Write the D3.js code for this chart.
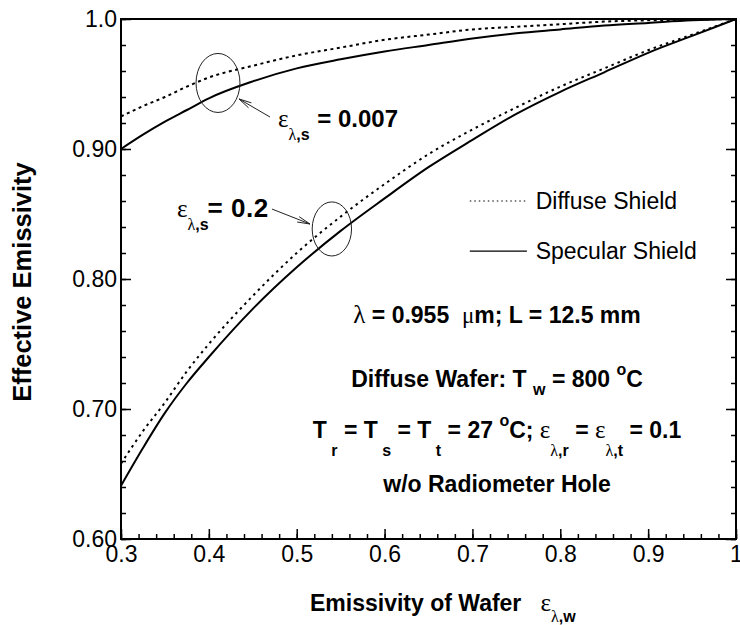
<!DOCTYPE html>
<html>
<head>
<meta charset="utf-8">
<script src="https://cdn.jsdelivr.net/npm/d3@7"></script>
<style>
  html, body { margin: 0; padding: 0; background: #fff; }
  svg text { white-space: pre; }
</style>
</head>
<body>
<svg id="chart" width="740" height="625"></svg>
<script>
// ---------------- data ----------------
const wafer = [0.3, 0.325, 0.35, 0.375, 0.4, 0.45, 0.5, 0.55, 0.6, 0.65, 0.7, 0.75, 0.8, 0.85, 0.9, 0.95, 1.0];
// shield emissivity 0.007
const spec007 = [0.900, 0.911, 0.921, 0.930, 0.939, 0.952, 0.962, 0.969, 0.975, 0.980, 0.985, 0.989, 0.992, 0.995, 0.997, 0.999, 1.0];
const diff007 = [0.925, 0.933, 0.940, 0.948, 0.955, 0.964, 0.972, 0.978, 0.984, 0.988, 0.992, 0.994, 0.996, 0.998, 0.999, 0.9995, 1.0];
// shield emissivity 0.2
const spec02  = [0.641, 0.670, 0.697, 0.720, 0.740, 0.777, 0.809, 0.837, 0.862, 0.886, 0.907, 0.927, 0.944, 0.959, 0.974, 0.987, 1.0];
const diff02  = [0.658, 0.683, 0.705, 0.729, 0.750, 0.787, 0.820, 0.848, 0.873, 0.896, 0.915, 0.932, 0.948, 0.962, 0.976, 0.988, 1.0];

const xTicks = [0.3, 0.4, 0.5, 0.6, 0.7, 0.8, 0.9, 1.0];
const xTickLabels = ["0.3", "0.4", "0.5", "0.6", "0.7", "0.8", "0.9", "1"];
const yTicks = [0.6, 0.7, 0.8, 0.9, 1.0];
const yTickLabels = ["0.60", "0.70", "0.80", "0.90", "1.0"];

const legendLabels = ["Diffuse Shield", "Specular Shield"];

// ---------------- setup ----------------
const SANS = "'Liberation Sans', Arial, Helvetica, sans-serif";
const SERIF = "'Liberation Serif', 'DejaVu Serif', serif";
const W = 740, H = 625;
const m = { left: 121, top: 19, right: 4, bottom: 86 };
const svg = d3.select("#chart");

const x = d3.scaleLinear().domain([0.3, 1.0]).range([m.left, W - m.right]);
const y = d3.scaleLinear().domain([0.6, 1.0]).range([H - m.bottom, m.top]);
const sx = v => x(v) - x(0);
const sy = v => y(0) - y(v);

const minorX = d3.range(0.3, 1.0001, 0.02);
const minorY = d3.range(0.6, 1.0001, 0.02);

// ---------------- axes ----------------
function styleAxis(g) {
  g.select(".domain").remove();
  g.selectAll(".tick line").attr("stroke", "#000").attr("stroke-width", 1.5);
  g.selectAll(".tick text").attr("fill", "#000").attr("font-family", SANS).attr("font-size", 23);
}
svg.append("g").attr("transform", `translate(0,${y(0.6)})`)
  .call(d3.axisBottom(x).tickValues(minorX).tickSize(-5).tickFormat("")).call(styleAxis);
svg.append("g").attr("transform", `translate(${x(0.3)},0)`)
  .call(d3.axisLeft(y).tickValues(minorY).tickSize(-5).tickFormat("")).call(styleAxis);
svg.append("g").attr("transform", `translate(${x(1.0)},0)`)
  .call(d3.axisRight(y).tickValues(minorY).tickSize(-5).tickFormat("")).call(styleAxis);
svg.append("g").attr("transform", `translate(0,${y(0.6)})`)
  .call(d3.axisBottom(x).tickValues(xTicks).tickSize(-10).tickPadding(7)
    .tickFormat((d, i) => xTickLabels[i])).call(styleAxis);
svg.append("g").attr("transform", `translate(${x(0.3)},0)`)
  .call(d3.axisLeft(y).tickValues(yTicks).tickSize(-10).tickPadding(4)
    .tickFormat((d, i) => yTickLabels[i])).call(styleAxis);
svg.append("g").attr("transform", `translate(${x(1.0)},0)`)
  .call(d3.axisRight(y).tickValues(yTicks).tickSize(-10).tickFormat("")).call(styleAxis);

svg.append("rect")
  .attr("x", x(0.3)).attr("y", y(1.0))
  .attr("width", x(1.0) - x(0.3)).attr("height", y(0.6) - y(1.0))
  .attr("fill", "none").attr("stroke", "#000").attr("stroke-width", 2);

// ---------------- curves ----------------
const line = d3.line().x(d => x(d[0])).y(d => y(d[1])).curve(d3.curveMonotoneX);
const series = [
  { v: diff007, dash: "3,3.5" },
  { v: spec007, dash: null },
  { v: diff02, dash: "2.5,4" },
  { v: spec02, dash: null }
];
svg.append("g").selectAll("path").data(series).join("path")
  .attr("d", s => line(wafer.map((w, i) => [w, s.v[i]])))
  .attr("fill", "none").attr("stroke", "#000").attr("stroke-width", 2)
  .attr("stroke-dasharray", s => s.dash);

// ---------------- rich text helper ----------------
function rich(parent, px, py, segs, opt) {
  const t = parent.append("text").attr("x", px).attr("y", py)
    .attr("text-anchor", opt.anchor || "start")
    .attr("font-family", SANS).attr("font-size", opt.size)
    .attr("font-weight", opt.weight || "normal").attr("fill", "#000");
  if (opt.rotate) t.attr("transform", `rotate(${opt.rotate},${px},${py})`);
  let cur = 0;
  segs.forEach(s => {
    const off = s.off || 0;
    const ts = t.append("tspan").text(s.t).attr("dy", off - cur);
    cur = off;
    if (s.g) ts.attr("font-family", SERIF).attr("font-weight", "normal");
    if (s.size) ts.attr("font-size", s.size);
    if (s.dx) ts.attr("dx", s.dx);
    if (s.ls) ts.attr("letter-spacing", s.ls);
  });
  return t;
}

// ---------------- annotations ----------------
const ann = svg.append("g").attr("fill", "none").attr("stroke", "#222").attr("stroke-width", 1);
[[0.4104, 0.9508, 0.025, 0.0227], [0.540, 0.8385, 0.0224, 0.0208]].forEach(e => {
  ann.append("ellipse").attr("cx", x(e[0])).attr("cy", y(e[1]))
    .attr("rx", sx(e[2])).attr("ry", sy(e[3]));
});
function arrow(x0, y0, x1, y1) {
  const X0 = x(x0), Y0 = y(y0), X1 = x(x1), Y1 = y(y1);
  const a = Math.atan2(Y1 - Y0, X1 - X0);
  const L = 13, sp = 0.22;
  ann.append("line").attr("x1", X0).attr("y1", Y0).attr("x2", X1).attr("y2", Y1);
  [a + Math.PI - sp, a + Math.PI + sp].forEach(b => {
    ann.append("line").attr("x1", X1).attr("y1", Y1)
      .attr("x2", X1 + L * Math.cos(b)).attr("y2", Y1 + L * Math.sin(b));
  });
}
arrow(0.4696, 0.9246, 0.4343, 0.9385);
arrow(0.4719, 0.8538, 0.5151, 0.8423);

rich(svg, x(0.4787), y(0.9167), [
  { t: "ε", g: 1, size: 25 },
  { t: "λ", g: 1, off: 13, size: 16 }, { t: ",s", off: 13, size: 16 },
  { t: " = 0.007", dx: 1 }
], { size: 24, weight: "bold" });

rich(svg, x(0.3637), y(0.848), [
  { t: "ε", g: 1, size: 25 },
  { t: "λ", g: 1, off: 13, size: 16 }, { t: ",s", off: 13, size: 16 },
  { t: "= 0.2", dx: -1, size: 26, ls: 0.5 }
], { size: 24, weight: "bold" });

// ---------------- legend ----------------
const legDash = ["1.5,3", null];
const legY = [0.860, 0.8215];
legendLabels.forEach((lab, i) => {
  svg.append("line")
    .attr("x1", x(0.697)).attr("x2", x(0.762))
    .attr("y1", y(legY[i])).attr("y2", y(legY[i]))
    .attr("stroke", "#000").attr("stroke-width", 1.2)
    .attr("stroke-dasharray", legDash[i]);
  svg.append("text").attr("x", x(0.772)).attr("y", y(legY[i]) + 8)
    .attr("font-family", SANS).attr("font-size", 23).attr("fill", "#000")
    .text(lab);
});

// ---------------- condition text block ----------------
const cx = x(0.728);
rich(svg, cx, y(0.766), [
  { t: "λ", g: 1, size: 25 }, { t: " = 0.955  " }, { t: "μ", g: 1, size: 23 }, { t: "m; L = 12.5 mm" }
], { size: 23, weight: "bold", anchor: "middle" });

rich(svg, cx, y(0.717), [
  { t: "Diffuse Wafer: T " }, { t: "w", off: 8, size: 16 }, { t: " = 800 " },
  { t: "o", off: -12, size: 16 }, { t: "C" }
], { size: 23, weight: "bold", anchor: "middle" });

rich(svg, cx, y(0.678), [
  { t: "T" }, { t: " r", off: 18, size: 16 }, { t: " = T" }, { t: " s", off: 18, size: 16 },
  { t: " = T" }, { t: " t", off: 18, size: 16 }, { t: " = 27 " },
  { t: "o", off: -12, size: 16 }, { t: "C; " },
  { t: "ε", g: 1, size: 25 }, { t: "λ", g: 1, off: 18, size: 16 }, { t: ",r", off: 18, size: 16 },
  { t: " = " },
  { t: "ε", g: 1, size: 25 }, { t: "λ", g: 1, off: 18, size: 16 }, { t: ",t", off: 18, size: 16 },
  { t: " = 0.1" }
], { size: 23, weight: "bold", anchor: "middle" });

rich(svg, cx, y(0.636), [{ t: "w/o Radiometer Hole" }],
  { size: 23, weight: "bold", anchor: "middle" });

// ---------------- axis titles ----------------
rich(svg, 310, 611, [
  { t: "Emissivity of Wafer   " },
  { t: "ε", g: 1, size: 25 }, { t: "λ", g: 1, off: 11, size: 16 }, { t: ",w", off: 11, size: 16 }
], { size: 23, weight: "bold" });

rich(svg, 31, (y(0.6) + y(1.0)) / 2 + 3, [{ t: "Effective Emissivity" }],
  { size: 25.5, weight: "bold", anchor: "middle", rotate: -90 });
</script>
</body>
</html>
